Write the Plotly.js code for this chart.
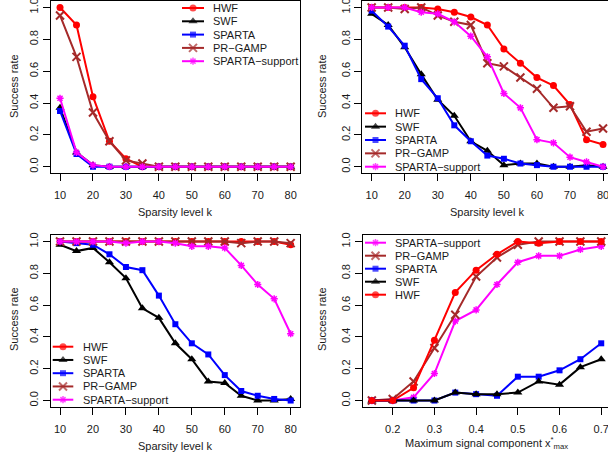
<!DOCTYPE html>
<html>
<head>
<meta charset="utf-8">
<script src="https://cdn.plot.ly/plotly-3.0.1.min.js"></script>
<style>
html,body{margin:0;padding:0;overflow:hidden;background:#fff;}
#chart{width:630px;height:457px;}
</style>
</head>
<body>
<div id="chart"></div>
<script>
// ---------------- data ----------------
const kLevels = [10,15,20,25,30,35,40,45,50,55,60,65,70,75,80];
const xmaxLevels = [0.15,0.20,0.25,0.30,0.35,0.40,0.45,0.50,0.55,0.60,0.65,0.70];
const methodNames = ["HWF","SWF","SPARTA","PR\u2212GAMP","SPARTA\u2212support"];

// Panel 1 (top-left)
const p1_HWF     = [1.00,0.89,0.44,0.16,0.05,0.00,0,0,0,0,0,0,0,0,0];
const p1_SWF     = [0.37,0.09,0.01,0.00,0.00,0.00,0,0,0,0,0,0,0,0,0];
const p1_SPARTA  = [0.35,0.08,0.00,0.00,0.00,0.00,0,0,0,0,0,0,0,0,0];
const p1_PRGAMP  = [0.95,0.69,0.34,0.16,0.04,0.02,0,0,0,0,0,0,0,0,0];
const p1_SUPPORT = [0.43,0.09,0.01,0.00,0.00,0.00,0,0,0,0,0,0,0,0,0];

// Panel 2 (top-right)
const p2_HWF     = [1.00,1.00,1.00,1.00,0.99,0.97,0.94,0.89,0.74,0.65,0.56,0.51,0.39,0.17,0.14];
const p2_SWF     = [0.96,0.89,0.75,0.58,0.42,0.32,0.16,0.10,0.01,0.02,0.02,0.00,0.00,0.01,0.00];
const p2_SPARTA  = [0.98,0.88,0.76,0.55,0.43,0.26,0.16,0.07,0.05,0.02,0.01,0.00,0.00,0.00,0.00];
const p2_PRGAMP  = [1.00,1.00,0.99,1.00,0.95,0.91,0.89,0.65,0.63,0.56,0.49,0.37,0.38,0.22,0.24];
const p2_SUPPORT = [1.00,1.00,1.00,0.97,0.96,0.91,0.82,0.69,0.46,0.37,0.17,0.15,0.06,0.03,0.00];

// Panel 3 (bottom-left)
const p3_HWF     = [1.00,1.00,1.00,1.00,1.00,1.00,1.00,1.00,1.00,1.00,1.00,1.00,1.00,1.00,0.98];
const p3_SWF     = [0.98,0.94,0.96,0.87,0.77,0.58,0.52,0.36,0.26,0.12,0.11,0.03,0.00,0.00,0.01];
const p3_SPARTA  = [1.00,0.99,0.98,0.92,0.84,0.82,0.66,0.48,0.36,0.29,0.16,0.06,0.03,0.01,0.00];
const p3_PRGAMP  = [1.00,1.00,1.00,1.00,1.00,1.00,1.00,1.00,1.00,1.00,1.00,0.99,1.00,1.00,0.99];
const p3_SUPPORT = [1.00,1.00,1.00,1.00,0.99,1.00,1.00,0.99,0.97,0.97,0.96,0.85,0.73,0.64,0.42];

// Panel 4 (bottom-right)
const p4_HWF     = [0.00,0.00,0.08,0.38,0.68,0.82,0.92,1.00,0.99,1.00,1.00,1.00];
const p4_SWF     = [0.00,0.00,0.00,0.00,0.05,0.04,0.04,0.05,0.12,0.10,0.21,0.26];
const p4_SPARTA  = [0.00,0.00,0.00,0.00,0.05,0.04,0.03,0.15,0.15,0.19,0.26,0.36];
const p4_PRGAMP  = [0.00,0.01,0.12,0.33,0.54,0.78,0.90,0.98,1.00,1.00,1.00,1.00];
const p4_SUPPORT = [0.00,0.00,0.02,0.17,0.50,0.57,0.73,0.87,0.91,0.91,0.95,0.97];

const xTickK = [10,20,30,40,50,60,70,80];
const xTickXmax = [0.2,0.3,0.4,0.5,0.6,0.7];
const yTicks = [0,0.2,0.4,0.6,0.8,1.0];

// ---------------- styles ----------------
const W = 630, H = 457;
const FONT = "Liberation Sans, Arial, Helvetica, sans-serif";
const TXT = "#1a1a1a";
const sty = {
  "HWF":               {color:"#FF0000", symbol:"circle",          size:7, lw:0},
  "SWF":               {color:"#000000", symbol:"triangle-up",     size:8, lw:0},
  "SPARTA":            {color:"#0000FF", symbol:"square",          size:6, lw:0},
  "PR\u2212GAMP":      {color:"#A52A2A", symbol:"x-thin-open",     size:8, lw:2},
  "SPARTA\u2212support":{color:"#FF00FF", symbol:"asterisk-open",  size:6, lw:1.5}
};

function series(name, x, y, xa, ya){
  const s = sty[name];
  return {
    type:"scatter", mode:"lines+markers", name:name, x:x, y:y,
    xaxis:xa, yaxis:ya, showlegend:false, hoverinfo:"skip",
    line:{color:s.color, width:2},
    marker:{color:s.color, symbol:s.symbol, size:s.size,
            line:{color:s.color, width:s.lw}},
    cliponaxis:false
  };
}

const traces = [];
const p1 = [p1_HWF,p1_SWF,p1_SPARTA,p1_PRGAMP,p1_SUPPORT];
const p2 = [p2_HWF,p2_SWF,p2_SPARTA,p2_PRGAMP,p2_SUPPORT];
const p3 = [p3_HWF,p3_SWF,p3_SPARTA,p3_PRGAMP,p3_SUPPORT];
const p4 = [p4_HWF,p4_SWF,p4_SPARTA,p4_PRGAMP,p4_SUPPORT];
methodNames.forEach((n,i)=>traces.push(series(n,kLevels,p1[i],"x","y")));
methodNames.forEach((n,i)=>traces.push(series(n,kLevels,p2[i],"x2","y2")));
methodNames.forEach((n,i)=>traces.push(series(n,kLevels,p3[i],"x3","y3")));
const order4 = [4,3,2,1,0];
order4.forEach(i=>traces.push(series(methodNames[i],xmaxLevels,p4[i],"x4","y4")));

// ---------------- layout helpers (pixel -> paper) ----------------
const px = v => v / W;
const py = v => 1 - v / H;

function xax(l, r, range, tv){
  return {domain:[px(l),px(r)], range:range, tickmode:"array", tickvals:tv,
    ticks:"outside", ticklen:7, tickwidth:1, tickcolor:"#000",
    ticklabelstandoff:5, ticklabeloverflow:"allow",
    showline:true, mirror:true, linecolor:"#000", linewidth:1,
    showgrid:false, zeroline:false, fixedrange:true,
    tickfont:{family:FONT, size:11, color:TXT}};
}
function yax(t, b, anchor){
  return {domain:[py(b),py(t)], range:[-0.04,1.04], tickmode:"array", tickvals:yTicks,
    tickformat:".1f", tickangle:-90, anchor:anchor, ticklabeloverflow:"allow",
    ticks:"outside", ticklen:7, tickwidth:1, tickcolor:"#000",
    showline:true, mirror:true, linecolor:"#000", linewidth:1,
    showgrid:false, zeroline:false, fixedrange:true,
    tickfont:{family:FONT, size:11, color:TXT}};
}

const layout = {
  width:W, height:H, margin:{l:0,r:0,t:0,b:0},
  paper_bgcolor:"#fff", plot_bgcolor:"rgba(0,0,0,0)",
  showlegend:false, font:{family:FONT, size:11, color:TXT},
  xaxis: Object.assign(xax(50.8, 299.9, [7.2,82.8], xTickK), {anchor:"y"}),
  yaxis: yax(1.1, 173.1, "x"),
  xaxis2: Object.assign(xax(362.4, 612.3, [7.2,82.8], xTickK), {anchor:"y2"}),
  yaxis2: yax(1.1, 173.1, "x2"),
  xaxis3: Object.assign(xax(50.8, 299.9, [7.2,82.8], xTickK), {anchor:"y3"}),
  yaxis3: yax(235.2, 406.9, "x3"),
  xaxis4: Object.assign(xax(362.7, 610.4, [0.128,0.722], xTickXmax), {anchor:"y4"}),
  yaxis4: yax(235.2, 406.9, "x4"),
  // pixel overlay for legends
  xaxis5: {domain:[0,1], range:[0,W], visible:false, fixedrange:true, anchor:"y5"},
  yaxis5: {domain:[0,1], range:[H,0], visible:false, fixedrange:true, anchor:"x5"},
  annotations: [],
  shapes: []
};

function ann(text, x, y, opts){
  layout.annotations.push(Object.assign({text:text, xref:"paper", yref:"paper",
    x:px(x), y:py(y), showarrow:false, xanchor:"center", yanchor:"middle",
    font:{family:FONT, size:11, color:TXT}}, opts||{}));
}

// axis titles
ann("Sparsity level k", 175.4, 212);
ann("Sparsity level k", 487.3, 212);
ann("Sparsity level k", 175.4, 446);
ann("Maximum signal component x<sup>*</sup><sub>max</sub>", 486.5, 443);
ann("Success rate", 14, 86, {textangle:-90});
ann("Success rate", 322, 86, {textangle:-90});
ann("Success rate", 14, 319, {textangle:-90});
ann("Success rate", 322, 319, {textangle:-90});

// legends (R style, no box)
function legend(names, x0, x1, tx, y0, dy){
  names.forEach((n,i)=>{
    const s = sty[n];
    const yy = y0 + i*dy;
    traces.push({type:"scatter", mode:"lines+markers", x:[x0,(x0+x1)/2,x1], y:[yy,yy,yy],
      xaxis:"x5", yaxis:"y5", showlegend:false, hoverinfo:"skip", cliponaxis:false,
      line:{color:s.color, width:2},
      marker:{color:s.color, symbol:s.symbol, size:[0,s.size,0], line:{color:s.color, width:s.lw}}});
    ann(n, tx, yy, {xanchor:"left"});
  });
}
legend(methodNames, 182, 204, 211, 8, 13.3);
legend(methodNames, 365, 386, 393, 113.3, 13.35);
legend(methodNames, 52.7, 73.3, 81, 346.7, 13.25);
legend(order4.map(i=>methodNames[i]), 365, 386, 393, 242.7, 13.0);

Plotly.newPlot("chart", traces, layout, {staticPlot:true, displayModeBar:false});
</script>
</body>
</html>
